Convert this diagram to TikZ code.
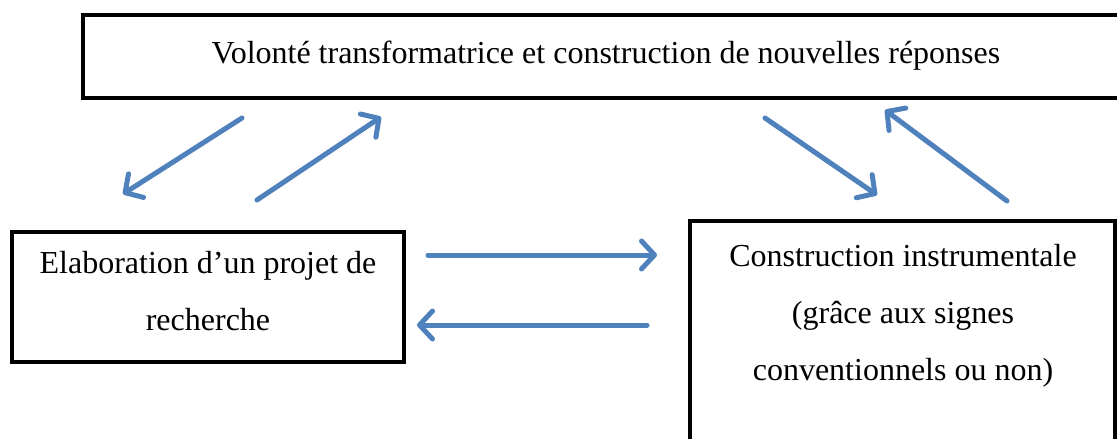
\documentclass[tikz,border=0pt]{standalone}
\usepackage{fontspec}
\setmainfont{Liberation Serif}
\usetikzlibrary{arrows.meta}
\definecolor{arrowblue}{HTML}{4F81BD}
\tikzset{
  boxnode/.style={draw=black, line width=3.5pt, fill=none, inner sep=0pt, rectangle},
  txt/.style={align=center, inner sep=0pt, font=\fontsize{32}{57}\selectfont},
  bluearrow/.style={draw=arrowblue, line width=5pt, line cap=round,
    -{Straight Barb[length=13pt,width=28pt,line width=5pt,round]}}
}
\begin{document}
\begin{tikzpicture}[x=1pt,y=-1pt]
\useasboundingbox (0,0) rectangle (1117,439);
\fill[white] (0,0) rectangle (1117,439);
% boxes
\node[boxnode, minimum width=1047pt, minimum height=83pt] (top) at (606.5,56.5) {};
\node[boxnode, minimum width=392pt, minimum height=130pt] (elab) at (208,297) {};
\node[boxnode, minimum width=425pt, minimum height=259pt] (constr) at (902.5,350.5) {};
% texts (base anchor = baseline of the last line)
\node[txt, anchor=base] (toptxt) at (606,63) {Volonté transformatrice et construction de nouvelles réponses};
\node[txt, anchor=base] (elabtxt) at (208,330) {Elaboration d’un projet de\\recherche};
\node[txt, anchor=base] (constrtxt) at (903,380) {Construction instrumentale\\(grâce aux signes\\conventionnels ou non)};
% arrow end points
\coordinate (a1s) at (242,118); \coordinate (a1e) at (123,194);
\coordinate (a2s) at (257,200); \coordinate (a2e) at (381,117);
\coordinate (a3s) at (765,118); \coordinate (a3e) at (877,195);
\coordinate (a4s) at (1007,201); \coordinate (a4e) at (885,110);
\coordinate (a5s) at (428,255); \coordinate (a5e) at (657,255);
\coordinate (a6s) at (647,325); \coordinate (a6e) at (417,325);
\draw[bluearrow] (a1s) -- (a1e);
\draw[bluearrow] (a2s) -- (a2e);
\draw[bluearrow] (a3s) -- (a3e);
\draw[bluearrow] (a4s) -- (a4e);
\draw[bluearrow] (a5s) -- (a5e);
\draw[bluearrow] (a6s) -- (a6e);
\end{tikzpicture}
\end{document}
